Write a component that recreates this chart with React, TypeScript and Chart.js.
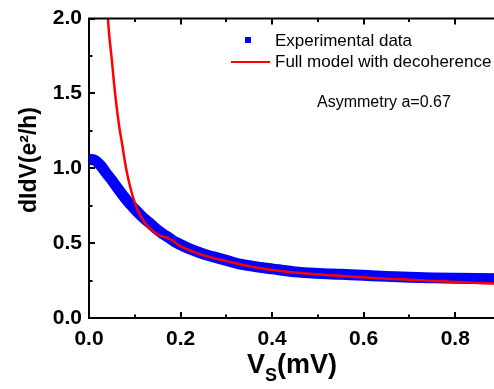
import React, { useEffect, useRef } from 'react';
import { Chart, registerables } from 'chart.js';

Chart.register(...registerables);

// ---- data ----
const expX = [0, 0.012, 0.025, 0.037, 0.05, 0.063, 0.075, 0.087, 0.1, 0.115, 0.13, 0.145, 0.16, 0.175, 0.19, 0.21, 0.23, 0.25, 0.27, 0.3, 0.33, 0.36, 0.4, 0.45, 0.5, 0.55, 0.6, 0.65, 0.7, 0.75, 0.8, 0.85, 0.92];
const expY = [1.06, 1.055, 1.02, 0.97, 0.92, 0.865, 0.815, 0.77, 0.727, 0.68, 0.64, 0.6, 0.565, 0.535, 0.505, 0.475, 0.45, 0.428, 0.41, 0.385, 0.36, 0.345, 0.328, 0.308, 0.298, 0.292, 0.285, 0.278, 0.272, 0.268, 0.265, 0.263, 0.262];

const modelX = [0.03, 0.035, 0.0414, 0.05, 0.057, 0.065, 0.073, 0.081, 0.09, 0.1, 0.111, 0.125, 0.14, 0.155, 0.172, 0.2, 0.23, 0.26, 0.3, 0.35, 0.4, 0.46, 0.52, 0.57, 0.63, 0.68, 0.74, 0.79, 0.85, 0.92];
const modelY = [2.9, 2.45, 2.0, 1.72, 1.5, 1.3, 1.15, 1.0, 0.875, 0.77, 0.69, 0.625, 0.58, 0.55, 0.535, 0.48, 0.44, 0.41, 0.38, 0.345, 0.32, 0.3, 0.287, 0.277, 0.266, 0.258, 0.249, 0.242, 0.234, 0.225];

const xMin = 0;
const xMax = 0.92;
const xStep = 0.1;
const xLabelEvery = 0.2;
const yMin = 0;
const yMax = 2.0;
const yStep = 0.25;
const yLabelEvery = 0.5;

const seriesNames = ['Experimental data', 'Full model with decoherence'];
const annotationText = 'Asymmetry a=0.67';
const xTitleMain = 'V';
const xTitleSub = 'S';
const xTitleRest = '(mV)';
const yTitle = 'dIdV(e\u00b2/h)';

const FONT = '"Liberation Sans", Arial, sans-serif';

const isMultiple = (v: number, step: number) => Math.abs(v / step - Math.round(v / step)) < 1e-6;

const framePlugin = {
  id: 'frameDecor',
  afterDatasetsDraw(chart: any) {
    const ctx = chart.ctx as CanvasRenderingContext2D;
    const { left, right, top, bottom } = chart.chartArea;
    const xs = chart.scales.x;
    const ys = chart.scales.y;
    ctx.save();
    ctx.strokeStyle = '#000';
    ctx.lineWidth = 2;
    // top spine
    ctx.beginPath();
    ctx.moveTo(left - 1, top);
    ctx.lineTo(right + 5, top);
    ctx.stroke();
    // x ticks (inward, bottom and top)
    xs.ticks.forEach((t: any) => {
      const px = Math.round(xs.getPixelForValue(t.value));
      const len = isMultiple(t.value, xLabelEvery) ? 6 : 3.5;
      ctx.beginPath();
      ctx.moveTo(px, bottom);
      ctx.lineTo(px, bottom - len);
      ctx.moveTo(px, top);
      ctx.lineTo(px, top + len);
      ctx.stroke();
    });
    ys.ticks.forEach((t: any) => {
      const py = Math.round(ys.getPixelForValue(t.value));
      const len = isMultiple(t.value, yLabelEvery) ? 6 : 3.5;
      ctx.beginPath();
      ctx.moveTo(left, py);
      ctx.lineTo(left + len, py);
      ctx.stroke();
    });

    // legend
    ctx.fillStyle = '#0000ff';
    ctx.fillRect(245, 37, 6, 6);
    ctx.strokeStyle = '#ff0000';
    ctx.lineWidth = 2;
    ctx.beginPath();
    ctx.moveTo(231, 62);
    ctx.lineTo(270, 62);
    ctx.stroke();
    ctx.fillStyle = '#000';
    ctx.font = `17px ${FONT}`;
    ctx.textAlign = 'left';
    ctx.textBaseline = 'middle';
    ctx.fillText(seriesNames[0], 275, 41);
    ctx.fillText(seriesNames[1], 275, 62);
    ctx.font = `16px ${FONT}`;
    ctx.fillText(annotationText, 317, 103);

    // x title
    ctx.textBaseline = 'alphabetic';
    ctx.font = `bold 27px ${FONT}`;
    let x = 247;
    ctx.fillText(xTitleMain, x, 373);
    x += ctx.measureText(xTitleMain).width;
    ctx.font = `bold 18px ${FONT}`;
    ctx.fillText(xTitleSub, x, 381);
    x += ctx.measureText(xTitleSub).width;
    ctx.font = `bold 27px ${FONT}`;
    ctx.fillText(xTitleRest, x, 373);

    // y title
    ctx.save();
    ctx.translate(36, 160);
    ctx.rotate(-Math.PI / 2);
    ctx.font = `bold 23px ${FONT}`;
    ctx.textAlign = 'center';
    ctx.fillText(yTitle, 0, 0);
    ctx.restore();

    ctx.restore();
  },
};

export default function App() {
  const canvasRef = useRef<HTMLCanvasElement | null>(null);

  useEffect(() => {
    const canvas = canvasRef.current;
    if (!canvas) return;
    const chart = new Chart(canvas, {
      type: 'scatter',
      data: {
        datasets: [
          {
            label: seriesNames[0],
            data: expX.map((x, i) => ({ x, y: expY[i] })),
            showLine: true,
            borderColor: '#0000ff',
            backgroundColor: '#0000ff',
            borderWidth: 11,
            borderCapStyle: 'butt',
            pointRadius: 0,
            cubicInterpolationMode: 'monotone',
            clip: 0,
            order: 2,
          },
          {
            label: seriesNames[1],
            data: modelX.map((x, i) => ({ x, y: modelY[i] })),
            showLine: true,
            borderColor: '#ff0000',
            backgroundColor: '#ff0000',
            borderWidth: 2.5,
            pointRadius: 0,
            cubicInterpolationMode: 'monotone',
            clip: 0,
            order: 1,
          },
        ],
      },
      options: {
        animation: false,
        responsive: false,
        devicePixelRatio: 1,
        layout: { padding: { left: 0, right: 0, top: 12, bottom: 0 } },
        plugins: { legend: { display: false }, tooltip: { enabled: false } },
        scales: {
          x: {
            type: 'linear',
            min: xMin,
            max: xMax,
            grid: { display: false, drawTicks: false },
            border: { display: true, color: '#000', width: 2 },
            ticks: {
              stepSize: xStep,
              autoSkip: false,
              maxRotation: 0,
              includeBounds: false,
              padding: 10,
              color: '#000',
              font: { family: FONT, size: 21, weight: 'bold', lineHeight: 1.1 },
              callback: (v: any) => (isMultiple(Number(v), xLabelEvery) ? Number(v).toFixed(1) : ''),
            },
            afterFit: (scale: any) => {
              scale.height = 71;
            },
          },
          y: {
            type: 'linear',
            min: yMin,
            max: yMax,
            grid: { display: false, drawTicks: false },
            border: { display: true, color: '#000', width: 2 },
            ticks: {
              stepSize: yStep,
              autoSkip: false,
              padding: 7,
              color: '#000',
              font: { family: FONT, size: 21, weight: 'bold', lineHeight: 1.1 },
              callback: (v: any) => (isMultiple(Number(v), yLabelEvery) ? Number(v).toFixed(1) : ''),
            },
            afterFit: (scale: any) => {
              scale.width = 89;
            },
          },
        },
      } as any,
      plugins: [framePlugin],
    });
    return () => chart.destroy();
  }, []);

  return (
    <div style={{ position: 'absolute', left: 0, top: 0, width: 494, height: 389, overflow: 'hidden', background: '#fff' }}>
      <canvas ref={canvasRef} width={511} height={389} style={{ display: 'block', width: 511, height: 389 }} />
    </div>
  );
}
